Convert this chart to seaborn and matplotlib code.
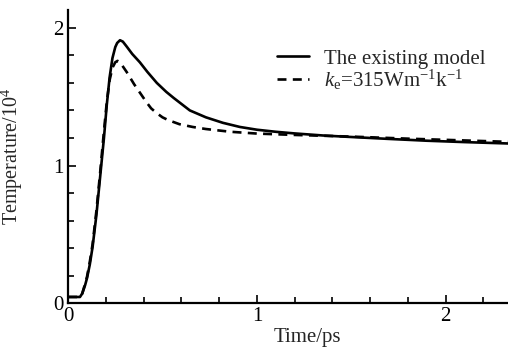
import pandas as pd
import numpy as np
import matplotlib.pyplot as plt
import seaborn as sns
from matplotlib.ticker import MultipleLocator

# Values (time in ps, temperature in 10^4 K)
t_existing = [0, 0.063, 0.075, 0.09, 0.10, 0.115, 0.13, 0.15, 0.17, 0.19, 0.205, 0.22,
              0.235, 0.25, 0.26, 0.275, 0.29, 0.31, 0.34, 0.38, 0.42, 0.47, 0.52, 0.56,
              0.645, 0.73, 0.82, 0.91, 1.0, 1.1, 1.2, 1.35, 1.5, 1.7, 1.9, 2.1, 2.33]
T_existing = [0.045, 0.045, 0.07, 0.13, 0.18, 0.28, 0.41, 0.64, 0.92, 1.20, 1.44, 1.64,
              1.78, 1.86, 1.89, 1.91, 1.90, 1.865, 1.81, 1.75, 1.68, 1.60, 1.535, 1.49,
              1.40, 1.35, 1.31, 1.28, 1.26, 1.245, 1.233, 1.218, 1.207, 1.193, 1.18,
              1.17, 1.16]

t_ke = [0, 0.063, 0.075, 0.09, 0.10, 0.115, 0.13, 0.15, 0.17, 0.19, 0.205, 0.22, 0.235,
        0.25, 0.262, 0.275, 0.29, 0.31, 0.35, 0.38, 0.415, 0.44, 0.47, 0.50, 0.53, 0.59,
        0.66, 0.73, 0.86, 1.0, 1.2, 1.5, 1.8, 2.1, 2.33]
T_ke = [0.045, 0.045, 0.07, 0.14, 0.19, 0.30, 0.43, 0.67, 0.95, 1.25, 1.46, 1.62, 1.71,
        1.75, 1.76, 1.75, 1.72, 1.68, 1.59, 1.53, 1.46, 1.415, 1.38, 1.35, 1.33, 1.30,
        1.28, 1.265, 1.245, 1.232, 1.222, 1.21, 1.195, 1.182, 1.172]

labels = ["The existing model", r"$k_\mathrm{e}$=315Wm$^{-1}$k$^{-1}$"]

df_existing = pd.DataFrame({"Time": t_existing, "Temperature": T_existing})
df_ke = pd.DataFrame({"Time": t_ke, "Temperature": T_ke})

sns.set_style("ticks")
plt.rcParams["font.family"] = ["Liberation Serif", "DejaVu Serif"]
plt.rcParams["mathtext.fontset"] = "custom"
plt.rcParams["mathtext.rm"] = "Liberation Serif"
plt.rcParams["mathtext.it"] = "Liberation Serif:italic"

fig = plt.figure(figsize=(5.08, 3.55), dpi=100)
ax = fig.add_axes([0.134, 0.146, 0.866, 0.826])

sns.lineplot(data=df_existing, x="Time", y="Temperature", ax=ax, color="black",
             linewidth=1.9, label=labels[0])
sns.lineplot(data=df_ke, x="Time", y="Temperature", ax=ax, color="black",
             linewidth=1.9, label=labels[1])
ax.lines[1].set_dashes((3.4, 2.4))

ax.set_xlim(0, 2.33)
ax.set_ylim(0, 2.13)
ax.xaxis.set_major_locator(MultipleLocator(1))
ax.xaxis.set_minor_locator(MultipleLocator(0.2))
ax.yaxis.set_major_locator(MultipleLocator(1))
ax.yaxis.set_minor_locator(MultipleLocator(0.2))
ax.tick_params(which="both", direction="in", width=1.2, labelsize=15, colors="black")
ax.tick_params(which="major", length=6, pad=3)
ax.tick_params(which="minor", length=4)

sns.despine(ax=ax)
for side in ["left", "bottom"]:
    ax.spines[side].set_linewidth(1.6)
    ax.spines[side].set_color("black")

ax.set_xlabel("Time/ps", fontsize=15)
ax.set_ylabel(r"Temperature/10$^4$", fontsize=14.5)
ax.xaxis.set_label_coords(0.543, -0.085)
ax.yaxis.set_label_coords(-0.098, 0.5)

ax.legend(loc="upper left", bbox_to_anchor=(0.545, 0.862), bbox_transform=fig.transFigure,
          frameon=False, fontsize=15, handlelength=1.55, handletextpad=0.7,
          labelspacing=-0.06, borderpad=0, borderaxespad=0)

fig.savefig("out.png", dpi=100)
